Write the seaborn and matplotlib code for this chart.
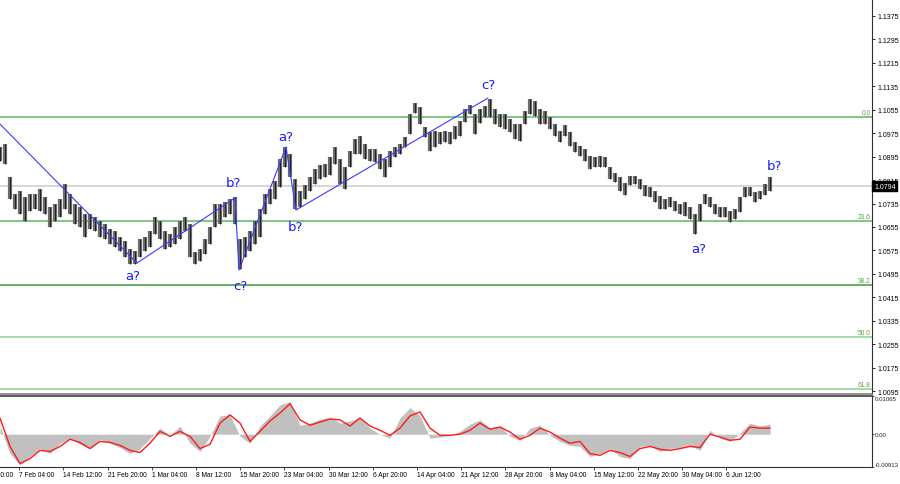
import numpy as np
import pandas as pd
import matplotlib
matplotlib.use("Agg")
import matplotlib.pyplot as plt
import matplotlib.transforms as mtransforms
import seaborn as sns

# ---------------- data ----------------
# aggregated H4 price bars (each entry ~ 3.6 H4 bars), EURUSD Jan-Jun 2023
bar_high = [1.0928,1.0938,1.0826,1.0768,1.0778,1.0757,1.0768,1.0768,1.0785,1.0757,
            1.0723,1.0733,1.0750,1.0802,1.0768,1.0733,1.0723,1.0699,1.0699,1.0689,
            1.0675,1.0665,1.0648,1.0641,1.0621,1.0607,1.0580,1.0573,1.0614,1.0621,
            1.0641,1.0689,1.0675,1.0641,1.0631,1.0655,1.0675,1.0689,1.0665,1.0570,
            1.0580,1.0614,1.0655,1.0733,1.0733,1.0740,1.0750,1.0757,1.0614,1.0621,
            1.0641,1.0675,1.0716,1.0768,1.0785,1.0812,1.0887,1.0928,1.0904,1.0819,
            1.0778,1.0798,1.0825,1.0853,1.0866,1.0870,1.0894,1.0928,1.0887,1.0860,
            1.0914,1.0955,1.0965,1.0938,1.0921,1.0921,1.0904,1.0887,1.0914,1.0928,
            1.0938,1.0962,1.1040,1.1078,1.1064,1.0996,1.0979,1.0982,1.0979,1.0982,
            1.0979,1.0999,1.1017,1.1058,1.1071,1.1040,1.1058,1.1068,1.1092,1.1058,
            1.1040,1.1040,1.1023,1.1006,1.1006,1.1051,1.1092,1.1085,1.1058,1.1051,
            1.1030,1.1006,1.0982,1.1003,1.0979,1.0945,1.0931,1.0921,1.0897,1.0894,
            1.0897,1.0894,1.0860,1.0839,1.0825,1.0805,1.0829,1.0829,1.0819,1.0798,
            1.0791,1.0778,1.0761,1.0750,1.0757,1.0744,1.0733,1.0740,1.0723,1.0699,
            1.0733,1.0768,1.0757,1.0733,1.0723,1.0723,1.0709,1.0716,1.0757,1.0791,
            1.0791,1.0774,1.0778,1.0802,1.0825]
bar_low = [1.0880,1.0870,1.0750,1.0716,1.0699,1.0675,1.0709,1.0716,1.0709,1.0699,
           1.0655,1.0675,1.0689,1.0716,1.0699,1.0665,1.0655,1.0621,1.0648,1.0641,
           1.0621,1.0614,1.0597,1.0587,1.0573,1.0552,1.0529,1.0529,1.0552,1.0573,
           1.0587,1.0631,1.0614,1.0580,1.0587,1.0597,1.0614,1.0641,1.0552,1.0529,
           1.0539,1.0563,1.0597,1.0655,1.0665,1.0689,1.0699,1.0665,1.0512,1.0552,
           1.0573,1.0597,1.0621,1.0699,1.0733,1.0750,1.0791,1.0860,1.0825,1.0716,
           1.0723,1.0750,1.0778,1.0802,1.0819,1.0825,1.0832,1.0870,1.0802,1.0785,
           1.0860,1.0904,1.0904,1.0887,1.0880,1.0877,1.0853,1.0825,1.0860,1.0894,
           1.0904,1.0928,1.0972,1.1044,1.1006,1.0962,1.0914,1.0928,1.0938,1.0945,
           1.0938,1.0955,1.0965,1.1013,1.1040,1.0972,1.1010,1.1030,1.1030,1.1006,
           1.0996,1.0989,1.0979,1.0955,1.0948,1.1006,1.1040,1.1034,1.1006,1.1006,
           1.0989,1.0965,1.0945,1.0965,1.0931,1.0911,1.0897,1.0880,1.0853,1.0860,
           1.0860,1.0860,1.0819,1.0808,1.0778,1.0764,1.0798,1.0802,1.0785,1.0761,
           1.0757,1.0740,1.0716,1.0716,1.0723,1.0709,1.0699,1.0692,1.0682,1.0631,
           1.0675,1.0733,1.0723,1.0699,1.0689,1.0689,1.0672,1.0682,1.0706,1.0757,
           1.0761,1.0740,1.0750,1.0764,1.0778]
price_now = 1.0794

# MACD (values x 1e-4), every second bar
macd_main_e4 = [23,-54,-85,-62,-40,-54,-25,-11,-28,-40,
                -14,-25,-37,-54,-40,-11,17,-3,23,-25,
                -48,-6,51,54,-6,-25,23,51,82,91,
                25,31,42,48,31,37,48,17,0,-11,
                45,74,51,-11,-8,-3,8,28,40,17,
                23,-6,-17,17,25,-3,-20,-31,-34,-62,
                -54,-40,-62,-68,-34,-31,-48,-40,-37,-31,
                -45,11,-11,-20,3,31,23,28]
macd_signal_e4 = [45,-34,-82,-68,-45,-48,-34,-14,-23,-40,
                  -20,-23,-31,-45,-51,-25,8,-6,8,-6,
                  -40,-28,31,54,31,-20,8,37,59,85,
                  40,25,34,42,40,23,45,23,11,-3,
                  17,51,62,17,-3,-3,0,11,31,14,
                  20,6,-14,-3,17,6,-11,-25,-20,-54,
                  -59,-45,-51,-62,-40,-34,-42,-45,-40,-34,
                  -37,0,-8,-17,-14,20,17,17]

# Fibonacci retracement
fib_top = 1.1030
fib_bottom = 0.9526
fib_levels = [0.0, 23.6, 38.2, 50.0, 61.8]

# Wave count (bar index, price)
wave_x = [0, 27.4, 47, 47.8, 57.2, 59.2, 97.6]
wave_y = [1.1006, 1.0532, 1.0754, 1.0508, 1.0928, 1.0713, 1.1095]
wave_labels = ["a?", "b?", "c?", "a?", "b?", "c?", "a?", "b?"]
wave_label_x = [26.6, 46.6, 48.0, 57.2, 59.0, 97.6, 139.8, 154.8]
wave_label_y = [1.0488, 1.0808, 1.0454, 1.0965, 1.0658, 1.1140, 1.0580, 1.0866]

y_ticks = [1.0095, 1.0175, 1.0255, 1.0335, 1.0415, 1.0495, 1.0575, 1.0655,
           1.0735, 1.0815, 1.0895, 1.0975, 1.1055, 1.1135, 1.1215, 1.1295, 1.1375]
x_labels = ["30 Jan 20:00", "7 Feb 04:00", "14 Feb 12:00", "21 Feb 20:00", "1 Mar 04:00",
            "8 Mar 12:00", "15 Mar 20:00", "23 Mar 04:00", "30 Mar 12:00", "6 Apr 20:00",
            "14 Apr 04:00", "21 Apr 12:00", "28 Apr 20:00", "8 May 04:00", "15 May 12:00",
            "22 May 20:00", "30 May 04:00", "6 Jun 12:00"]
macd_top = 0.01065
macd_bottom = -0.00913

# ---------------- styling / layout ----------------
sns.set_style("white")
plt.rcParams["font.family"] = ["Liberation Sans", "DejaVu Sans"]

W, H = 900, 485
fig = plt.figure(figsize=(W / 100, H / 100), dpi=100)
fig.patch.set_facecolor("white")
ax = fig.add_axes([0, 1 - 395 / H, 872 / W, 395 / H])
axm = fig.add_axes([0, 1 - 468 / H, 872 / W, 71 / H])

px = 5.0  # pixels per aggregated bar
xmax = 872 / px

# candles
idx = np.arange(len(bar_high))
ax.vlines(idx, bar_low, bar_high, color="#6c6c6c", lw=3.0, zorder=3)
ax.vlines(idx, bar_low, bar_high, color="#202020", lw=0.7, zorder=4)

# current price line
ax.axhline(price_now, color="#cfcfcf", lw=1.2, zorder=1)

# fibo
fib_line_colors = ["#5cb85c", "#5cb85c", "#3a9d3a", "#8fcf8f", "#8fcf8f"]
for lvl, c in zip(fib_levels, fib_line_colors):
    p = fib_top - lvl / 100.0 * (fib_top - fib_bottom)
    ax.axhline(p, color=c, lw=1.1, zorder=2)
    ax.text(xmax - 0.3, p + 0.0004, f"{lvl:.1f}", ha="right", va="bottom",
            fontsize=4.8, color="#5aa83a", zorder=5)

# waves
wave_df = pd.DataFrame({"x": wave_x, "y": wave_y})
sns.lineplot(data=wave_df, x="x", y="y", sort=False, estimator=None,
             color="#3b3bff", lw=0.8, ax=ax, zorder=6)
for t, lx, ly in zip(wave_labels, wave_label_x, wave_label_y):
    ax.text(lx, ly, t, ha="center", va="center", fontsize=9.5, color="#1a1aff",
            family="DejaVu Sans", zorder=7)

ax.set_xlim(0, xmax)
ax.set_ylim(1.0085, 1.1433)
ax.yaxis.tick_right()
ax.set_yticks(y_ticks)
ax.set_yticklabels([f"{v:.4f}" for v in y_ticks])
ax.tick_params(axis="y", which="both", right=True, length=2.5, width=0.6,
               direction="out", labelsize=5.0, pad=1.5, colors="black")
ax.set_xticks([])
ax.set_xlabel("")
ax.set_ylabel("")
for s in ["top", "left"]:
    ax.spines[s].set_visible(False)
ax.spines["right"].set_color("#303030")
ax.spines["right"].set_linewidth(0.8)
ax.spines["bottom"].set_color("#808080")
ax.spines["bottom"].set_linewidth(1.2)

# current price box
ax.annotate(f"{price_now:.4f}", xy=(1.0, price_now),
            xycoords=("axes fraction", "data"), xytext=(1.5, 0),
            textcoords="offset points", ha="left", va="center",
            fontsize=5.0, color="white", annotation_clip=False, zorder=10,
            bbox=dict(boxstyle="square,pad=0.25", fc="black", ec="black"))

# MACD panel
macd_x = np.arange(0, len(bar_high), 2)
main = np.array(macd_main_e4) * 1e-4
signal = np.array(macd_signal_e4) * 1e-4
axm.fill_between(macd_x, 0, main, color="#c0c0c0", lw=0, zorder=2)
sig_df = pd.DataFrame({"x": macd_x, "y": signal})
sns.lineplot(data=sig_df, x="x", y="y", color="#ff1a1a", lw=1.0, ax=axm, zorder=3)

axm.set_xlim(0, xmax)
axm.set_ylim(macd_bottom, macd_top)
axm.yaxis.tick_right()
axm.set_yticks([macd_top, 0.0, macd_bottom])
axm.set_yticklabels(["0.01065", "0.00", "-0.00913"])
axm.tick_params(axis="y", length=1.5, width=0.6, labelsize=4.4, pad=0.5)
labs = axm.get_yticklabels()
labs[0].set_va("top")
labs[2].set_va("bottom")
axm.set_xlabel("")
axm.set_ylabel("")
axm.spines["left"].set_visible(False)
axm.spines["top"].set_color("#404040")
axm.spines["top"].set_linewidth(1.2)
axm.spines["bottom"].set_color("#303030")
axm.spines["right"].set_color("#303030")
axm.spines["right"].set_linewidth(0.8)

tick_pos = [(-25 + 44.2 * k) / px for k in range(len(x_labels))]
in_view = [p for p in tick_pos if 0 <= p <= xmax]
axm.set_xticks(in_view)
axm.set_xticklabels([])
axm.tick_params(axis="x", bottom=True, length=2.5, width=0.6, direction="out")
trans = mtransforms.blended_transform_factory(axm.transData, axm.transAxes)
for p, lab in zip(tick_pos, x_labels):
    axm.text(p, -0.06, lab, transform=trans, ha="left", va="top",
             fontsize=4.8, color="black", clip_on=False)

fig.savefig("out.png", dpi=100, facecolor="white")
